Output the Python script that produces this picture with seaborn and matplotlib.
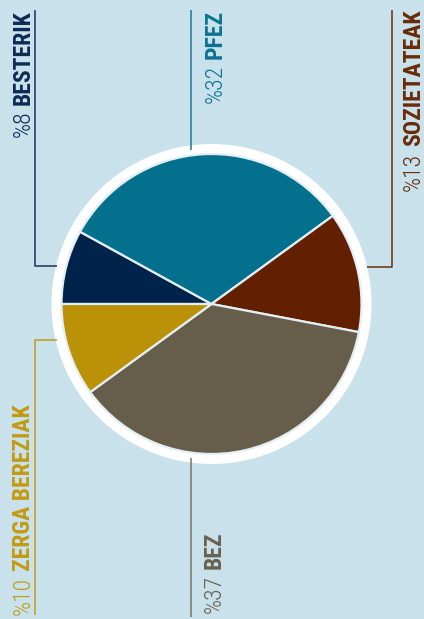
import matplotlib
matplotlib.use("Agg")
import matplotlib.pyplot as plt
import seaborn as sns
from matplotlib.patches import Circle

# ---- data ----
categories = ["BESTERIK", "PFEZ", "SOZIETATEAK", "BEZ", "ZERGA BEREZIAK"]
values = [8, 32, 13, 37, 10]
pct_labels = ["%8", "%32", "%13", "%37", "%10"]

# ---- style ----
sns.set_style("white")
BG = "#c9e1ea"
slice_colors = sns.color_palette(["#00234b", "#03718d", "#622000", "#675d4b", "#bb9108"])
text_colors = ["#0b2a55", "#0a7390", "#6a2a08", "#6b604e", "#c39a12"]
line_colors = ["#1a3058", "#1c7893", "#6d2c0c", "#7b7367", "#c29a16"]
FAM = ["Roboto Condensed", "Liberation Sans Narrow", "Roboto", "DejaVu Sans"]

W, H = 424, 619
fig = plt.figure(figsize=(W / 100, H / 100), dpi=100, facecolor=BG)
ax = fig.add_axes([0, 0, 1, 1])
ax.set_facecolor(BG)

cx, cy = 211.5, H - 304

# white ring behind pie
ax.add_patch(Circle((cx, cy), 160, facecolor="white", edgecolor="none", zorder=1))

wedges, _ = ax.pie(values, colors=slice_colors, startangle=180, counterclock=False,
                   center=(cx, cy), radius=150, frame=True,
                   wedgeprops=dict(edgecolor="#e3eff4", linewidth=1.6, zorder=2))
for w in wedges:
    w.set_zorder(2)

ax.set_xlim(0, W)
ax.set_ylim(0, H)
ax.set_aspect("equal")
ax.set_axis_off()

# ---- leader lines (pixel coords, y from top) ----
leaders = {
    "BESTERIK": [(35, 10), (35, 266), (57, 266)],
    "PFEZ": [(191, 10), (191, 150)],
    "SOZIETATEAK": [(392, 10), (392, 267), (367, 267)],
    "BEZ": [(191, 458), (191, 617)],
    "ZERGA BEREZIAK": [(57, 340), (35, 340), (35, 615)],
}
for i, cat in enumerate(categories):
    pts = leaders[cat]
    ax.plot([p[0] for p in pts], [H - p[1] for p in pts], color=line_colors[i],
            lw=1.1, solid_capstyle="butt", zorder=3)

# ---- labels ----
FS = 17
GAP = 6
renderer = fig.canvas.get_renderer()
# baseline x, anchor y (pixel from top), anchored at 'top' end or 'bottom' start
label_pos = {
    "BESTERIK": (29.5, 10, "top"),
    "PFEZ": (221.5, 10, "top"),
    "SOZIETATEAK": (420, 10, "top"),
    "BEZ": (221, 613, "bottom"),
    "ZERGA BEREZIAK": (29.5, 615, "bottom"),
}
for i, cat in enumerate(categories):
    bx, py, mode = label_pos[cat]
    col = text_colors[i]
    if mode == "top":
        t1 = ax.text(bx, H - py, cat, rotation=90, rotation_mode="anchor",
                     ha="right", va="baseline", fontsize=FS, fontweight="bold",
                     color=col, family=FAM, zorder=4)
        h = t1.get_window_extent(renderer).height
        ax.text(bx, H - py - h - GAP, pct_labels[i], rotation=90, rotation_mode="anchor",
                ha="right", va="baseline", fontsize=FS, fontweight="light",
                color=col, family=FAM, zorder=4)
    else:
        t1 = ax.text(bx, H - py, pct_labels[i], rotation=90, rotation_mode="anchor",
                     ha="left", va="baseline", fontsize=FS, fontweight="light",
                     color=col, family=FAM, zorder=4)
        h = t1.get_window_extent(renderer).height
        ax.text(bx, H - py + h + GAP, cat, rotation=90, rotation_mode="anchor",
                ha="left", va="baseline", fontsize=FS, fontweight="bold",
                color=col, family=FAM, zorder=4)

fig.savefig("out.png", dpi=100, facecolor=BG)
